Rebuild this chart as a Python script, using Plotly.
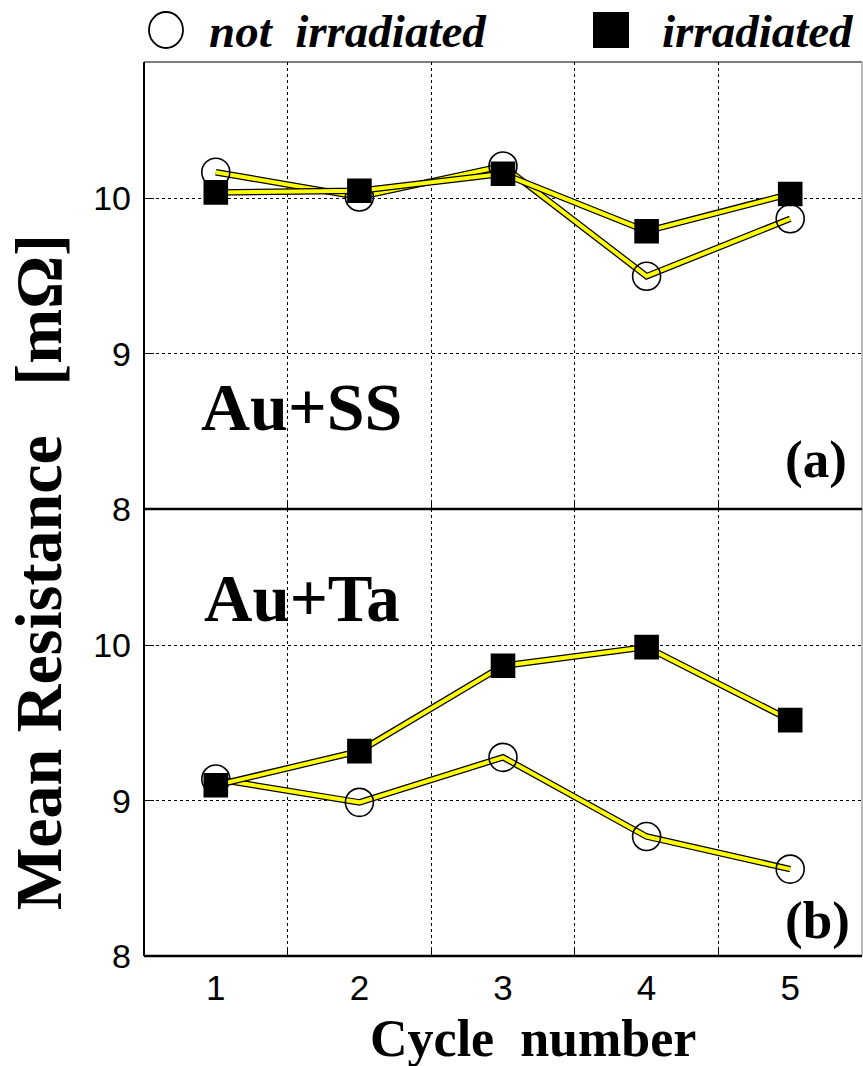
import plotly.graph_objects as go

cycles = [1, 2, 3, 4, 5]
ss_not_irr = [10.17, 10.01, 10.21, 9.50, 9.87]
ss_irr = [10.04, 10.05, 10.16, 9.79, 10.03]
ta_not_irr = [9.14, 8.99, 9.28, 8.77, 8.56]
ta_irr = [9.10, 9.32, 9.87, 9.99, 9.52]
y_ticks = [8, 9, 10]
x_ticks = [1, 2, 3, 4, 5]
x_grid = [1.5, 2.5, 3.5, 4.5]

W, H = 863, 1066
L, R, T, B = 144, 862, 62, 956
NB = "\u00a0"

def px(x):
    return (x - L) / (R - L)

def py(y):
    return (B - y) / (B - T)

fig = go.Figure()

def add_series(xs, ys, xa, ya, symbol, size, fill):
    fig.add_trace(go.Scatter(x=xs, y=ys, xaxis=xa, yaxis=ya, mode="lines",
                             line=dict(color="black", width=6.5), showlegend=False, hoverinfo="skip"))
    fig.add_trace(go.Scatter(x=xs, y=ys, xaxis=xa, yaxis=ya, mode="lines",
                             line=dict(color="#ffff00", width=4), showlegend=False, hoverinfo="skip"))
    fig.add_trace(go.Scatter(x=xs, y=ys, xaxis=xa, yaxis=ya, mode="markers",
                             marker=dict(symbol=symbol, size=size, color=fill,
                                         line=dict(color="black", width=1.6)),
                             showlegend=False))

add_series(cycles, ss_not_irr, "x", "y", "circle-open", 28, "black")
add_series(cycles, ss_irr, "x", "y", "square", 23, "black")
add_series(cycles, ta_not_irr, "x2", "y2", "circle-open", 28, "black")
add_series(cycles, ta_irr, "x2", "y2", "square", 23, "black")

xcommon = dict(range=[0.5, 5.5], tickvals=x_ticks, showgrid=False, zeroline=False,
               ticks="", showline=False,
               minor=dict(tickvals=x_grid, showgrid=True, griddash="dot", gridcolor="black",
                          gridwidth=1, ticks="inside", ticklen=6, tickcolor="black"))
ycommon = dict(range=[8, 10.88], tickvals=y_ticks, showgrid=True, griddash="dot",
               gridcolor="black", gridwidth=1, zeroline=False, ticks="inside", ticklen=10,
               tickcolor="black", showline=False,
               tickfont=dict(family="Liberation Sans", size=34, color="black"),
               ticklabelstandoff=12)

fig.update_layout(
    width=W, height=H,
    margin=dict(l=L, r=W - R, t=T, b=H - B),
    paper_bgcolor="white", plot_bgcolor="white",
    xaxis=dict(xcommon, anchor="y", showticklabels=False),
    yaxis=dict(ycommon, domain=[0.5, 1], anchor="x"),
    xaxis2=dict(xcommon, anchor="y2", showticklabels=True,
                tickfont=dict(family="Liberation Sans", size=35, color="black"),
                ticklabelstandoff=8),
    yaxis2=dict(ycommon, domain=[0, 0.5], anchor="x2"),
    showlegend=False,
)

shapes = [
    dict(type="line", xref="paper", yref="paper", x0=0, x1=0, y0=0, y1=1, line=dict(color="black", width=2)),
    dict(type="line", xref="paper", yref="paper", x0=0, x1=1, y0=1, y1=1, line=dict(color="black", width=1.2)),
    dict(type="line", xref="paper", yref="paper", x0=1, x1=1, y0=0, y1=1, line=dict(color="#777777", width=1)),
    dict(type="line", xref="paper", yref="paper", x0=0, x1=1, y0=0.5, y1=0.5, line=dict(color="black", width=2.5)),
    dict(type="line", xref="paper", yref="paper", x0=0, x1=1, y0=0, y1=0, line=dict(color="black", width=2.5)),
    # legend glyphs
    dict(type="circle", xref="paper", yref="paper", x0=px(149), x1=px(183), y0=py(48), y1=py(12),
         line=dict(color="black", width=1.8), fillcolor="white"),
    dict(type="rect", xref="paper", yref="paper", x0=px(593), x1=px(629), y0=py(48), y1=py(12),
         line=dict(color="black", width=0), fillcolor="black"),
]
fig.update_layout(shapes=shapes)

SERIF = "Liberation Serif, Times New Roman, serif"
bi = dict(family=SERIF, color="black", weight="bold", style="italic")
bd = dict(family=SERIF, color="black", weight="bold")
annotations = [
    dict(text="not" + NB + NB + "irradiated", x=px(207), y=py(31), xanchor="left", yanchor="middle",
         font=dict(bi, size=47)),
    dict(text="irradiated", x=px(660), y=py(31), xanchor="left", yanchor="middle",
         font=dict(bi, size=47)),
    dict(text="Au+SS", x=px(301), y=py(407), xanchor="center", yanchor="middle",
         font=dict(bd, size=68)),
    dict(text="Au+Ta", x=px(302), y=py(598), xanchor="center", yanchor="middle",
         font=dict(bd, size=67)),
    dict(text="(a)", x=px(816), y=py(460), xanchor="center", yanchor="middle",
         font=dict(bd, size=53)),
    dict(text="(b)", x=px(817), y=py(920), xanchor="center", yanchor="middle",
         font=dict(bd, size=53)),
    dict(text="Cycle" + NB + NB + "number", x=px(533), y=py(1038), xanchor="center", yanchor="middle",
         font=dict(bd, size=52)),
    dict(text="Mean" + NB + "Resistance" + NB + NB + NB + "[mΩ]", x=px(38), y=py(572),
         xanchor="center", yanchor="middle", textangle=-90, font=dict(bd, size=66)),
]
for a in annotations:
    a.update(xref="paper", yref="paper", showarrow=False)
fig.update_layout(annotations=annotations)

fig.write_html("out.html")
